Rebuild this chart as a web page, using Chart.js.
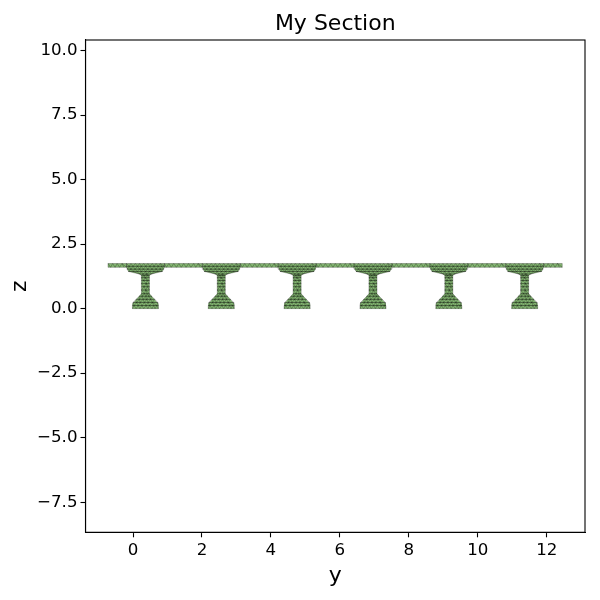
<!DOCTYPE html>
<html><head><meta charset="utf-8">
<style>html,body{margin:0;padding:0;background:#fff}canvas{display:block}</style>
<script src="https://cdn.jsdelivr.net/npm/chart.js@4"></script></head>
<body><canvas id="c" width="600" height="600"></canvas>
<script>
const titleText = "My Section";
const xLabel = "y";
const yLabel = "z";
const xTicks = [0,2,4,6,8,10,12];
const yTicks = [-7.5,-5,-2.5,0,2.5,5,7.5,10];
const yTickLabels = ["\u22127.5","\u22125.0","\u22122.5","0.0","2.5","5.0","7.5","10.0"];
const girderCentres = [0.36,2.56,4.76,6.96,9.16,11.36];
// one girder section: outline (offset from centre, z)
const girderOutlineY = [-0.377,0.377,0.377,0.116,0.116,0.17,0.49,0.55,0.55,-0.55,-0.55,-0.49,-0.17,-0.116,-0.116,-0.377];
const girderOutlineZ = [0,0,0.19,0.58,1.28,1.34,1.44,1.6,1.75,1.75,1.6,1.44,1.34,1.28,0.58,0.19];
// mesh rows of one girder
const meshRowZ = [0,0.12,0.24,0.36,0.48,0.58,0.72,0.85,0.97,1.09,1.2,1.28,1.34,1.44,1.53,1.64,1.75];
const meshRowY = [
 [-0.377,-0.27,-0.16,-0.05,0.07,0.19,0.28,0.377],
 [-0.377,-0.33,-0.21,-0.1,0.02,0.12,0.24,0.33,0.377],
 [-0.36,-0.25,-0.15,-0.03,0.08,0.2,0.36],
 [-0.27,-0.18,-0.07,0.04,0.15,0.27],
 [-0.18,-0.09,0.02,0.1,0.18],
 [-0.116,-0.03,0.05,0.116],
 [-0.116,0.01,0.116],
 [-0.116,-0.04,0.06,0.116],
 [-0.116,0.02,0.116],
 [-0.116,-0.05,0.05,0.116],
 [-0.116,-0.01,0.116],
 [-0.116,-0.04,0.05,0.116],
 [-0.17,-0.07,0.03,0.17],
 [-0.49,-0.36,-0.24,-0.12,0.01,0.13,0.25,0.37,0.49],
 [-0.53,-0.42,-0.3,-0.17,-0.06,0.07,0.19,0.31,0.43,0.53],
 [-0.55,-0.47,-0.36,-0.23,-0.12,0.01,0.13,0.25,0.37,0.47,0.55],
 [-0.55,-0.42,-0.29,-0.17,-0.05,0.07,0.2,0.31,0.43,0.55]
];
// deck slab between girders and the two overhangs
const deckTopZ = 1.75, deckBottomZ = 1.6;
const deckBayTop = [0.55,0.68,0.82,0.97,1.11,1.25,1.4,1.53,1.65];
const deckBayBottom = [0.55,0.61,0.75,0.9,1.04,1.18,1.32,1.46,1.59,1.65];
const overhangLeftTop = [-1.085,-0.95,-0.82,-0.68,-0.55];
const overhangLeftBottom = [-1.085,-1.01,-0.88,-0.75,-0.62,-0.55];
const overhangRightTop = [0.55,0.68,0.82,0.95,1.09];
const overhangRightBottom = [0.55,0.62,0.75,0.88,1.01,1.09];

const FILL = "#84b672", EDGE = "rgba(0,0,0,0.52)";
const gap = {x:NaN,y:NaN};
function zipper(out, a, za, b, zb, off){
  let i=0,j=0;
  const seg=(x1,y1,x2,y2)=>out.push({x:x1+off,y:y1},{x:x2+off,y:y2},gap);
  for(let k=0;k<a.length-1;k++) seg(a[k],za,a[k+1],za);
  for(let k=0;k<b.length-1;k++) seg(b[k],zb,b[k+1],zb);
  seg(a[0],za,b[0],zb);
  while(i<a.length-1||j<b.length-1){
    const advA = j>=b.length-1 || (i<a.length-1 && a[i+1]<=b[j+1]);
    if(advA) i++; else j++;
    seg(a[i],za,b[j],zb);
  }
}
const mesh=[], datasets=[];
const fillDs=(pts)=>({data:pts,showLine:true,borderWidth:0,borderColor:FILL,backgroundColor:FILL,fill:"shape",pointRadius:0,order:2,tension:0});
girderCentres.forEach((c,g)=>{
  datasets.push(fillDs(girderOutlineY.map((v,i)=>({x:v+c,y:girderOutlineZ[i]}))));
  for(let r=0;r<meshRowZ.length-1;r++) zipper(mesh,meshRowY[r],meshRowZ[r],meshRowY[r+1],meshRowZ[r+1],c);
  if(g===0){
    zipper(mesh,overhangLeftBottom,deckBottomZ,overhangLeftTop,deckTopZ,c);
    datasets.push(fillDs([{x:overhangLeftTop[0]+c,y:deckBottomZ},{x:-0.55+c,y:deckBottomZ},{x:-0.55+c,y:deckTopZ},{x:overhangLeftTop[0]+c,y:deckTopZ}]));
  }
  const last = g===girderCentres.length-1;
  const t = last?overhangRightTop:deckBayTop;
  const b = last?overhangRightBottom:deckBayBottom;
  zipper(mesh,b,deckBottomZ,t,deckTopZ,c);
  const e = t[t.length-1];
  datasets.push(fillDs([{x:0.55+c,y:deckBottomZ},{x:e+c,y:deckBottomZ},{x:e+c,y:deckTopZ},{x:0.55+c,y:deckTopZ}]));
});
datasets.push({data:mesh,showLine:true,borderColor:EDGE,borderWidth:0.5,fill:false,pointRadius:0,order:0,spanGaps:false,tension:0});

const frame={id:"frame",afterDraw(ch){const a=ch.chartArea,x=ch.ctx;x.save();x.strokeStyle="#000";x.lineWidth=1.1;x.strokeRect(a.left,a.top,a.right-a.left,a.bottom-a.top);x.restore();}};
Chart.defaults.font.family="'DejaVu Sans'";
new Chart(document.getElementById("c"),{
  type:"scatter",
  data:{datasets},
  plugins:[frame],
  options:{
    responsive:false,animation:false,devicePixelRatio:1,
    layout:{padding:{left:0,right:15,top:0,bottom:0}},
    plugins:{
      legend:{display:false},tooltip:{enabled:false},
      title:{display:true,text:titleText,color:"#000",fullSize:false,font:{size:22,weight:"normal",lineHeight:1},padding:{top:13,bottom:5}}
    },
    scales:{
      x:{type:"linear",min:-1.378,max:13.11,
        afterBuildTicks:s=>{s.ticks=xTicks.map(v=>({value:v}));},
        afterFit:s=>{s.height=67.7;},
        ticks:{color:"#000",font:{size:16.67},autoSkip:false,maxRotation:0,padding:3,callback:v=>(v<0?"\u2212":"")+Math.abs(v)},
        grid:{drawOnChartArea:false,tickLength:5,tickColor:"#000",tickWidth:1.1},
        border:{color:"#000",width:1.1},
        title:{display:true,text:xLabel,color:"#000",font:{size:22},padding:{top:4,bottom:11}}},
      y:{type:"linear",min:-8.667,max:10.41,
        afterBuildTicks:s=>{s.ticks=yTicks.map(v=>({value:v}));},
        afterFit:s=>{s.width=85.5;},
        ticks:{color:"#000",font:{size:16.67},autoSkip:false,padding:3,callback:v=>yTickLabels[yTicks.indexOf(v)]},
        grid:{drawOnChartArea:false,tickLength:5,tickColor:"#000",tickWidth:1.1},
        border:{color:"#000",width:1.1},
        title:{display:true,text:yLabel,color:"#000",font:{size:22},padding:{top:7,bottom:0}}}
    }
  }
});
</script></body></html>
